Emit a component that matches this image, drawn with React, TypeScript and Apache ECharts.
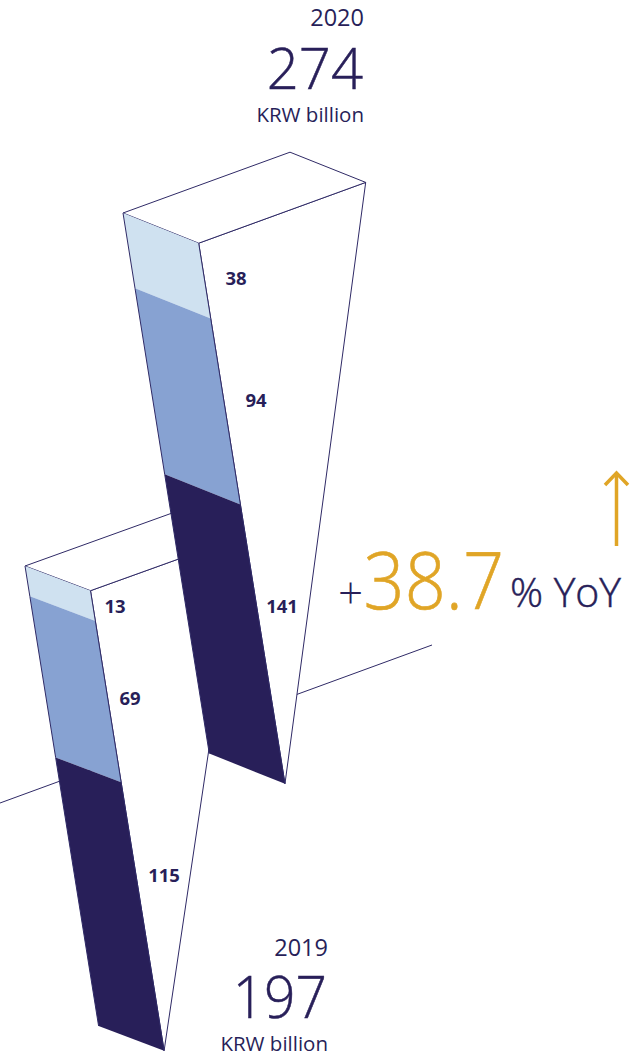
import React, { useEffect, useRef } from "react";
import * as echarts from "echarts";

// Revenue split per year, top segment first (KRW billion)
const segments2019 = [13, 69, 115];
const segments2020 = [38, 94, 141];
const years = ["2019", "2020"];
const totals = ["197", "274"];
const unitLabel = "KRW billion";
const yoyChange = "38.7";
const yoySuffix = "% YoY";

const WIDTH = 642;
const HEIGHT = 1057;
const NAVY = "#281f59";
const LINE = "#2f2a66";
const GOLD = "#e0a526";
const SEGMENT_COLORS = ["#cfe1f0", "#87a2d2", NAVY];
const FONT = '"Open Sans", "Noto Sans", sans-serif';

// Oblique projection of each prism: front-left corner, vertical scale and the two box edges
const layout2019 = {
  x: 25,
  top: 566,
  pxPerUnit: 2.335,
  slant: 0.16,
  drop: [65.5, 24.7],
  depth: [150, -54],
  labelAt: [[115, 605], [130, 697], [164, 874]],
};
const layout2020 = {
  x: 123,
  top: 213,
  pxPerUnit: 1.98,
  slant: 0.1596,
  drop: [75.7, 30.2],
  depth: [167, -60.8],
  labelAt: [[236, 277], [256, 399], [282, 605]],
};

type Layout = typeof layout2019;

function sliceRows(values: number[]) {
  let acc = 0;
  return values.map((v, i) => {
    const row = [acc, acc + v, v, i];
    acc += v;
    return row;
  });
}

// Left edge of the prism at a given value, read through the value axis
function edgePoint(api: any, l: Layout, value: number) {
  const y = api.coord([0, value])[1];
  return [l.x + l.slant * (y - l.top), y];
}

const stroke = { stroke: LINE, lineWidth: 1, fill: "none" };

function frameRenderer(l: Layout) {
  return (_params: any, api: any) => {
    const a = edgePoint(api, l, api.value(0));
    const bottom = edgePoint(api, l, api.value(1));
    const b = [a[0] + l.drop[0], a[1] + l.drop[1]];
    const c = [b[0] + l.depth[0], b[1] + l.depth[1]];
    const d = [a[0] + l.depth[0], a[1] + l.depth[1]];
    const tip = [bottom[0] + l.drop[0], bottom[1] + l.drop[1]];
    return {
      type: "group",
      children: [
        { type: "polygon", shape: { points: [b, c, tip] }, style: { fill: "#fff", stroke: LINE, lineWidth: 1 } },
        { type: "polygon", shape: { points: [a, d, c, b] }, style: { fill: "#fff", stroke: LINE, lineWidth: 1 } },
      ],
    };
  };
}

function segmentRenderer(l: Layout) {
  return (_params: any, api: any) => {
    const p0 = edgePoint(api, l, api.value(0));
    const p1 = edgePoint(api, l, api.value(1));
    const q0 = [p0[0] + l.drop[0], p0[1] + l.drop[1]];
    const q1 = [p1[0] + l.drop[0], p1[1] + l.drop[1]];
    const index = api.value(3);
    const at = l.labelAt[index];
    return {
      type: "group",
      children: [
        { type: "polygon", shape: { points: [p0, q0, q1, p1] }, style: { fill: SEGMENT_COLORS[index] } },
        { type: "line", shape: { x1: p0[0], y1: p0[1], x2: p1[0], y2: p1[1] }, style: stroke },
        { type: "line", shape: { x1: q0[0], y1: q0[1], x2: q1[0], y2: q1[1] }, style: stroke },
        {
          type: "text",
          style: {
            text: String(api.value(2)),
            x: at[0],
            y: at[1],
            align: "center",
            verticalAlign: "middle",
            fill: NAVY,
            font: `700 18.5px ${FONT}`,
          },
        },
      ],
    };
  };
}

function axisFor(l: Layout) {
  return {
    type: "value",
    show: false,
    inverse: true,
    min: -l.top / l.pxPerUnit,
    max: (HEIGHT - l.top) / l.pxPerUnit,
  };
}

function barSeries(values: number[], l: Layout, yAxisIndex: number) {
  const total = values.reduce((s, v) => s + v, 0);
  const common = { type: "custom", coordinateSystem: "cartesian2d", xAxisIndex: 0, yAxisIndex, silent: true, clip: false };
  return [
    { ...common, renderItem: frameRenderer(l), data: [[0, total]] },
    { ...common, renderItem: segmentRenderer(l), data: sliceRows(values) },
  ];
}

function label(text: string, right: number, y: number, font: string, fill = NAVY, scaleX = 1, weight = 0) {
  return {
    type: "text",
    x: right,
    y,
    scaleX,
    originX: 0,
    style: {
      text,
      x: 0,
      y: 0,
      align: "right",
      verticalAlign: "middle",
      fill,
      font,
      stroke: weight ? fill : "none",
      lineWidth: weight,
    },
  };
}

export default function App() {
  const ref = useRef<HTMLDivElement>(null);

  useEffect(() => {
    document.body.style.margin = "0";
    const chart = echarts.init(ref.current!, undefined, { renderer: "svg" });
    chart.setOption({
      animation: false,
      backgroundColor: "#fff",
      grid: { left: 0, top: 0, width: WIDTH, height: HEIGHT },
      xAxis: { type: "value", show: false, min: 0, max: WIDTH },
      yAxis: [axisFor(layout2019), axisFor(layout2020)],
      series: [...barSeries(segments2019, layout2019, 0), ...barSeries(segments2020, layout2020, 1)],
      graphic: [
        // Ground line passing behind both prisms
        { type: "line", z: 0, shape: { x1: 0, y1: 803, x2: 432, y2: 645 }, style: { stroke: LINE, lineWidth: 1 } },
        label(years[1], 364, 17, `400 23.5px ${FONT}`),
        label(totals[1], 363, 67, `300 58px ${FONT}`, NAVY, 0.97, 0.5),
        label(unitLabel, 364, 114, `400 20.5px ${FONT}`),
        label(years[0], 328, 947, `400 23.5px ${FONT}`),
        label(totals[0], 327, 996, `300 58px ${FONT}`, NAVY, 0.95, 0.5),
        label(unitLabel, 328, 1043, `400 20.5px ${FONT}`),
        label("+", 363, 592, `300 44px ${FONT}`),
        label(yoyChange, 504, 578, `300 80px ${FONT}`, GOLD, 0.9, 0.6),
        label(yoySuffix, 621, 591, `300 41px ${FONT}`, NAVY, 1, 0.5),
        // Upward arrow beside the growth figure
        { type: "line", shape: { x1: 616.5, y1: 546, x2: 616.5, y2: 473 }, style: { stroke: GOLD, lineWidth: 3.5 } },
        {
          type: "polyline",
          shape: { points: [[605, 485], [616.5, 473], [628, 485]] },
          style: { stroke: GOLD, lineWidth: 3.5, fill: "none" },
        },
      ],
    });
    return () => chart.dispose();
  }, []);

  return <div ref={ref} style={{ width: WIDTH, height: HEIGHT }} />;
}
